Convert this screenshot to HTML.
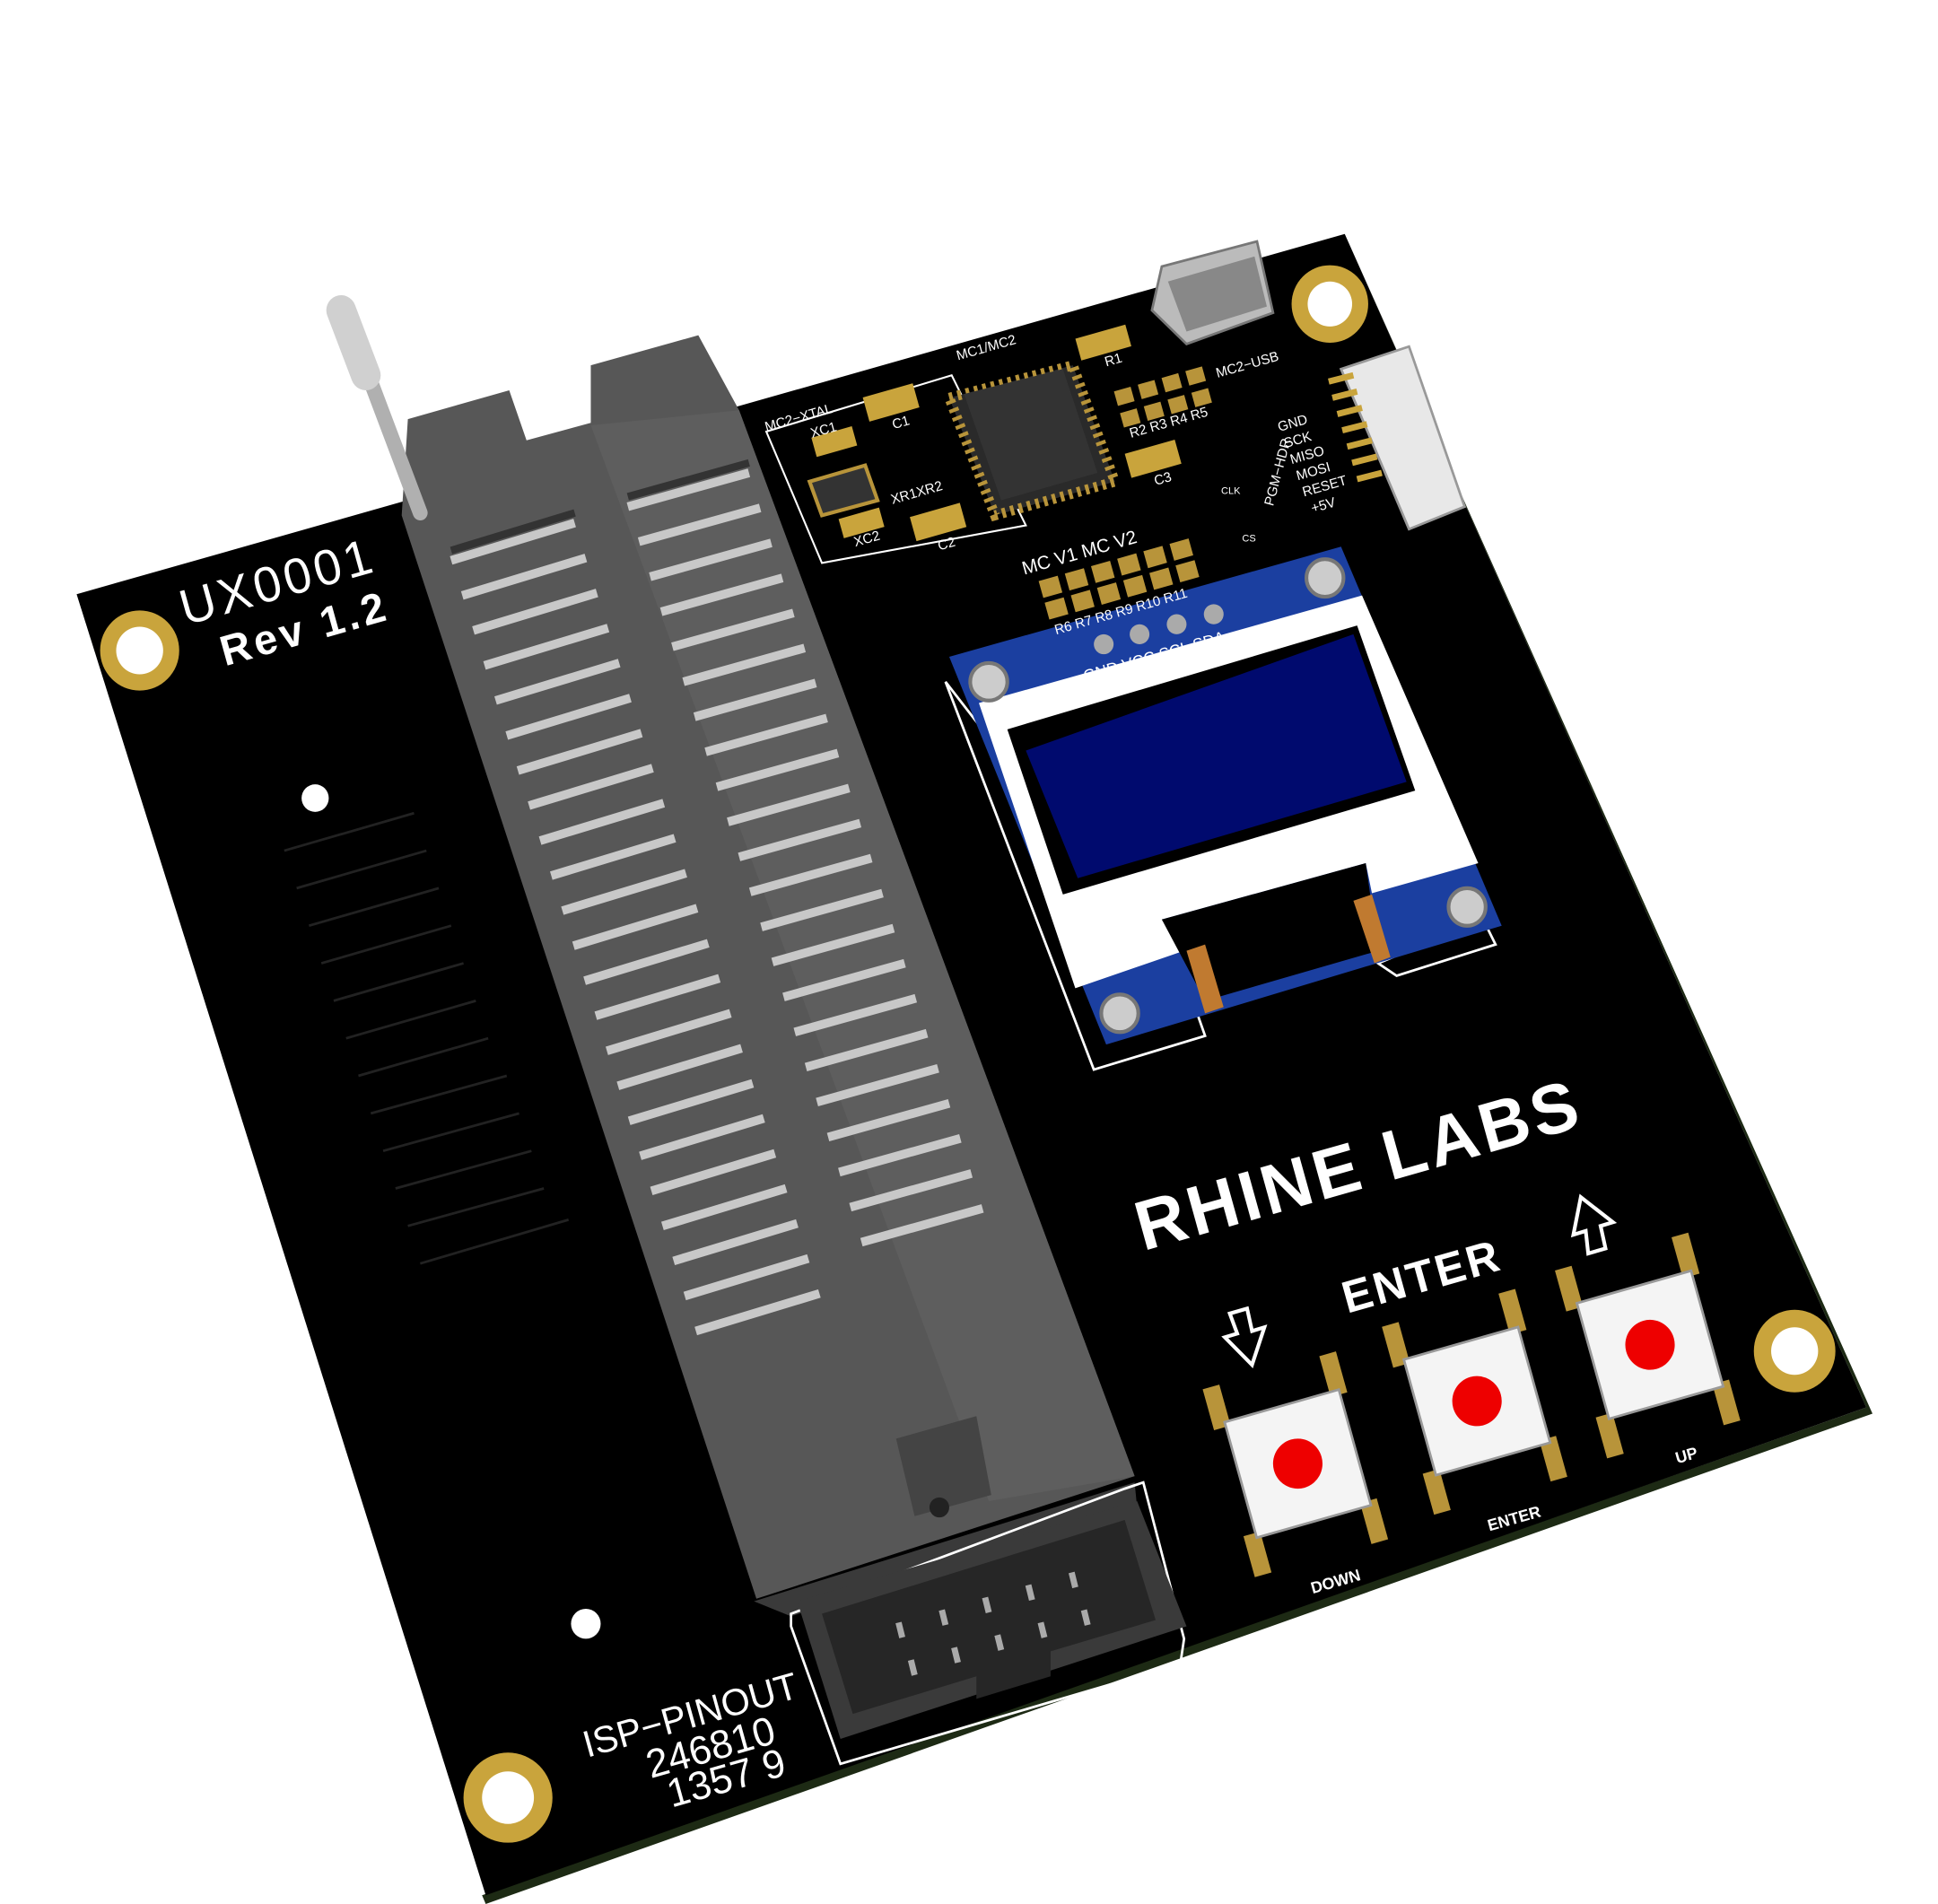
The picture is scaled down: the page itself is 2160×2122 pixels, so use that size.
<!DOCTYPE html>
<html><head><meta charset="utf-8"><style>
html,body{margin:0;padding:0;background:#fff;}
svg{display:block}
text{font-family:"Liberation Sans",sans-serif;}
</style></head><body>
<svg width="2160" height="2122" viewBox="0 0 1568 1522" preserveAspectRatio="none" xmlns="http://www.w3.org/2000/svg">
<rect width="1568" height="1522" fill="#fff"/>
<polygon points="1088,187 1515,1130 393,1522 390,1515 1510,1125" fill="#1d2a14"/>
<polygon points="62,475 1088,187 1510,1125 393,1515" fill="#000"/>
<g fill="#c9a43c">
<circle cx="113" cy="520" r="32"/><circle cx="1076" cy="243" r="31"/><circle cx="1452" cy="1080" r="33"/><circle cx="411" cy="1437" r="36"/>
</g>
<g fill="#fff">
<circle cx="113" cy="520" r="19"/><circle cx="1076" cy="243" r="18"/><circle cx="1452" cy="1080" r="19"/><circle cx="411" cy="1437" r="21"/>
<circle cx="255" cy="638" r="11"/><circle cx="474" cy="1298" r="12"/>
</g>
<g stroke="#222" stroke-width="2" fill="none">
<path d="M230,680 L335,650 M240,710 L345,680 M250,740 L355,710 M260,770 L365,740 M270,800 L375,770 M280,830 L385,800 M290,860 L395,830 M300,890 L410,860 M310,920 L420,890 M320,950 L430,920 M330,980 L440,950 M340,1010 L460,975"/>
</g>
<g fill="#fff" transform="rotate(-15.7 150 500)">
<text x="150" y="500" font-size="40" letter-spacing="3">UX0001</text>
<text x="172" y="540" font-size="34" font-weight="bold" letter-spacing="3">Rev  1.2</text>
</g>
<g fill="#fff" transform="rotate(-15.7 475 1405)">
<text x="475" y="1405" font-size="30">ISP−PINOUT</text>
<text x="520" y="1435" font-size="32">246810</text>
<text x="530" y="1462" font-size="32">1357 9</text>
</g>
<g fill="#fff" font-weight="bold" transform="rotate(-15.7 925 1000)">
<text x="925" y="1000" font-size="56" letter-spacing="3">RHINE  LABS</text>
</g>
<g fill="#fff" font-weight="bold" transform="rotate(-15.7 1090 1050)">
<text x="1090" y="1050" font-size="36" letter-spacing="2">ENTER</text>
</g>
<g fill="#fff" font-size="13" font-weight="bold">
<text x="1062" y="1274" transform="rotate(-15.7 1062 1274)">DOWN</text>
<text x="1205" y="1224" transform="rotate(-15.7 1205 1224)">ENTER</text>
<text x="1357" y="1170" transform="rotate(-15.7 1357 1170)">UP</text>
</g>
<path d="M995,1050 l14,-4 l4,18 l10,-3 l-10,30 l-22,-22 l10,-3z" fill="none" stroke="#fff" stroke-width="3"/>
<path d="M1285,1002 l14,-4 l-4,-18 l10,-3 l-26,-20 l-6,30 l10,-3z" fill="none" stroke="#fff" stroke-width="3"/>
<g>
<g transform="translate(1050,1170) rotate(-15.7)">
<rect x="-58" y="-78" width="14" height="34" fill="#b8943a"/><rect x="40" y="-78" width="14" height="34" fill="#b8943a"/>
<rect x="-58" y="44" width="14" height="34" fill="#b8943a"/><rect x="40" y="44" width="14" height="34" fill="#b8943a"/>
<rect x="-48" y="-48" width="96" height="96" fill="#f4f4f4" stroke="#999" stroke-width="2"/>
<circle r="20" fill="#e00"/>
</g>
<g transform="translate(1195,1120) rotate(-15.7)">
<rect x="-58" y="-78" width="14" height="34" fill="#b8943a"/><rect x="40" y="-78" width="14" height="34" fill="#b8943a"/>
<rect x="-58" y="44" width="14" height="34" fill="#b8943a"/><rect x="40" y="44" width="14" height="34" fill="#b8943a"/>
<rect x="-48" y="-48" width="96" height="96" fill="#f4f4f4" stroke="#999" stroke-width="2"/>
<circle r="20" fill="#e00"/>
</g>
<g transform="translate(1335,1075) rotate(-15.7)">
<rect x="-58" y="-78" width="14" height="34" fill="#b8943a"/><rect x="40" y="-78" width="14" height="34" fill="#b8943a"/>
<rect x="-58" y="44" width="14" height="34" fill="#b8943a"/><rect x="40" y="44" width="14" height="34" fill="#b8943a"/>
<rect x="-48" y="-48" width="96" height="96" fill="#f4f4f4" stroke="#999" stroke-width="2"/>
<circle r="20" fill="#e00"/>
</g>
</g>
<!-- OLED -->
<polygon points="765,545 885,855 975,828 965,800" fill="none" stroke="#fff" stroke-width="2"/>
<polygon points="1115,770 1130,780 1210,755 1200,735" fill="none" stroke="#fff" stroke-width="2"/>
<polygon points="768,525 1085,437 1215,740 895,835" fill="#1b3fa0"/>
<polygon points="792,562 1102,476 1196,690 1110,714 1105,690 940,735 958,760 870,790" fill="#fff"/>
<polygon points="815,583 1098,500 1145,632 860,715" fill="#000"/>
<polygon points="830,600 1095,507 1138,625 872,702" fill="#000a6e"/>
<polygon points="940,735 1105,690 1115,760 975,800" fill="#000"/>
<polygon points="960,760 975,755 990,805 975,810" fill="#c07a30"/>
<polygon points="1095,720 1110,715 1125,765 1112,770" fill="#c07a30"/>
<g fill="#ccc" stroke="#777" stroke-width="3">
<circle cx="800" cy="545" r="15"/><circle cx="1072" cy="462" r="15"/><circle cx="1187" cy="725" r="15"/><circle cx="906" cy="810" r="15"/>
</g>
<g fill="#aaa"><circle cx="893" cy="515" r="8"/><circle cx="922" cy="507" r="8"/><circle cx="952" cy="499" r="8"/><circle cx="982" cy="491" r="8"/></g>
<text x="878" y="545" font-size="13" fill="#fff" transform="rotate(-15.7 878 545)">GND VCC SCL SDA</text>
<g transform="rotate(-15.7 900 455)" fill="#fff" font-size="15">
<text x="830" y="440">MC  V1  MC  V2</text>
<g fill="#b8943a">
<rect x="840" y="448" width="16" height="14"/><rect x="862" y="448" width="16" height="14"/><rect x="884" y="448" width="16" height="14"/><rect x="906" y="448" width="16" height="14"/><rect x="928" y="448" width="16" height="14"/><rect x="950" y="448" width="16" height="14"/>
<rect x="840" y="466" width="16" height="14"/><rect x="862" y="466" width="16" height="14"/><rect x="884" y="466" width="16" height="14"/><rect x="906" y="466" width="16" height="14"/><rect x="928" y="466" width="16" height="14"/><rect x="950" y="466" width="16" height="14"/>
</g>
<text x="842" y="493" font-size="11">R6 R7 R8 R9 R10 R11</text>
</g>
<!-- MCU area -->
<polygon points="620,345 770,300 830,420 665,450" fill="none" stroke="#fff" stroke-width="1.5"/>
<polygon points="768,318 868,292 902,385 805,412" fill="#2a2a2a" stroke="#b8943a" stroke-width="8" stroke-dasharray="3 4"/>
<polygon points="780,315 860,295 888,378 810,400" fill="#333"/>
<g fill="#c9a43c">
<rect x="700" y="312" width="42" height="20" transform="rotate(-15.7 720 322)"/>
<rect x="738" y="407" width="42" height="20" transform="rotate(-15.7 760 417)"/>
<rect x="912" y="357" width="42" height="20" transform="rotate(-15.7 932 367)"/>
<rect x="872" y="265" width="42" height="18" transform="rotate(-15.7 892 275)"/>
<rect x="658" y="345" width="34" height="16" transform="rotate(-15.7 675 353)"/>
<rect x="680" y="410" width="34" height="16" transform="rotate(-15.7 697 418)"/>
</g>
<polygon points="655,385 700,372 710,400 665,412" fill="#333" stroke="#b8943a" stroke-width="3"/>
<g fill="#b8943a" transform="rotate(-15.7 950 320)">
<rect x="905" y="300" width="14" height="12"/><rect x="925" y="300" width="14" height="12"/><rect x="945" y="300" width="14" height="12"/><rect x="965" y="300" width="14" height="12"/>
<rect x="905" y="318" width="14" height="12"/><rect x="925" y="318" width="14" height="12"/><rect x="945" y="318" width="14" height="12"/><rect x="965" y="318" width="14" height="12"/>
</g>
<g fill="#fff" font-size="11">
<text x="620" y="345" transform="rotate(-15.7 620 345)">MC2−XTAL</text>
<text x="657" y="350" transform="rotate(-15.7 657 350)">XC1</text>
<text x="775" y="288" transform="rotate(-15.7 775 288)">MC1/MC2</text>
<text x="985" y="302" transform="rotate(-15.7 985 302)">MC2−USB</text>
<text x="722" y="403" transform="rotate(-15.7 722 403)">XR1XR2</text>
<text x="692" y="437" transform="rotate(-15.7 692 437)">XC2</text>
<text x="760" y="440" transform="rotate(-15.7 760 440)">C2</text>
<text x="723" y="343" transform="rotate(-15.7 723 343)">C1</text>
<text x="935" y="388" transform="rotate(-15.7 935 388)">C3</text>
<text x="895" y="293" transform="rotate(-15.7 895 293)">R1</text>
<text x="915" y="350" transform="rotate(-15.7 915 350)">R2 R3 R4 R5</text>
<text x="1035" y="345" transform="rotate(-15.7 1035 345)">GND</text>
<text x="1040" y="358" transform="rotate(-15.7 1040 358)">SCK</text>
<text x="1045" y="371" transform="rotate(-15.7 1045 371)">MISO</text>
<text x="1050" y="384" transform="rotate(-15.7 1050 384)">MOSI</text>
<text x="1055" y="397" transform="rotate(-15.7 1055 397)">RESET</text>
<text x="1062" y="410" transform="rotate(-15.7 1062 410)">+5V</text>
<text x="1030" y="405" transform="rotate(-75 1030 405)">PGM−HDR</text>
<text x="988" y="395" font-size="8">CLK</text>
<text x="1005" y="433" font-size="8">CS</text>
</g>
<polygon points="932,248 940,213 1017,193 1030,250 960,275" fill="#bbb" stroke="#777" stroke-width="2"/>
<polygon points="945,225 1015,205 1025,245 960,265" fill="#888"/>
<polygon points="1085,295 1140,277 1185,405 1140,423" fill="#e8e8e8" stroke="#999" stroke-width="2"/>
<g stroke="#c9a43c" stroke-width="5">
<path d="M1075,305 l20,-5 M1078,318 l20,-5 M1082,331 l20,-5 M1086,344 l20,-5 M1090,357 l20,-5 M1094,370 l20,-5 M1098,383 l20,-5"/>
</g>
<!-- ZIF socket -->
<polygon points="610,1280 918,1185 920,1205 640,1292" fill="#3a3a3a"/>
<polygon points="325,412 330,335 412,312 426,352 478,338 478,292 565,268 598,328 918,1180 612,1278" fill="#575757"/>
<polygon points="478,340 598,328 918,1180 800,1200" fill="#5e5e5e"/>
<g stroke="#c8c8c8" stroke-width="7">
<path d="M365,448 L465,418 M374,476 L474,446 M383,504 L483,474 M392,532 L492,502 M401,560 L501,530 M410,588 L510,558 M419,616 L519,586 M428,644 L528,614 M437,672 L537,642 M446,700 L546,670 M455,728 L555,698 M464,756 L564,726 M473,784 L573,754 M482,812 L582,782 M491,840 L591,810 M500,868 L600,838 M509,896 L609,866 M518,924 L618,894 M527,952 L627,922 M536,980 L636,950 M545,1008 L645,978 M554,1036 L654,1006 M563,1064 L663,1034"/>
<path d="M508,405 L606,378 M517,433 L615,406 M526,461 L624,434 M535,489 L633,462 M544,517 L642,490 M553,545 L651,518 M562,573 L660,546 M571,601 L669,574 M580,629 L678,602 M589,657 L687,630 M598,685 L696,658 M607,713 L705,686 M616,741 L714,714 M625,769 L723,742 M634,797 L732,770 M643,825 L741,798 M652,853 L750,826 M661,881 L759,854 M670,909 L768,882 M679,937 L777,910 M688,965 L786,938 M697,993 L795,966"/>
</g>
<g stroke="#333" stroke-width="6">
<path d="M365,440 L465,410 M508,397 L606,370"/>
</g>
<polygon points="725,1150 790,1132 802,1195 740,1212" fill="#444"/>
<circle cx="760" cy="1205" r="8" fill="#222"/>
<line x1="282" y1="258" x2="340" y2="410" stroke="#b0b0b0" stroke-width="12" stroke-linecap="round"/>
<line x1="276" y1="248" x2="296" y2="300" stroke="#d0d0d0" stroke-width="24" stroke-linecap="round"/>
<!-- ISP header -->
<polygon points="640,1290 640,1300 680,1410 955,1330 958,1310 925,1185 910,1190" fill="none" stroke="#fff" stroke-width="2"/>
<polygon points="645,1280 920,1200 960,1300 680,1390" fill="#3a3a3a"/>
<polygon points="665,1290 910,1215 935,1295 850,1320 850,1340 790,1358 790,1340 690,1370" fill="#262626"/>
<g stroke="#aaa" stroke-width="5">
<path d="M727,1297 l3,12 M762,1287 l3,12 M797,1277 l3,12 M832,1267 l3,12 M867,1257 l3,12 M737,1327 l3,12 M772,1317 l3,12 M807,1307 l3,12 M842,1297 l3,12 M877,1287 l3,12"/>
</g>
</svg>
</body></html>
